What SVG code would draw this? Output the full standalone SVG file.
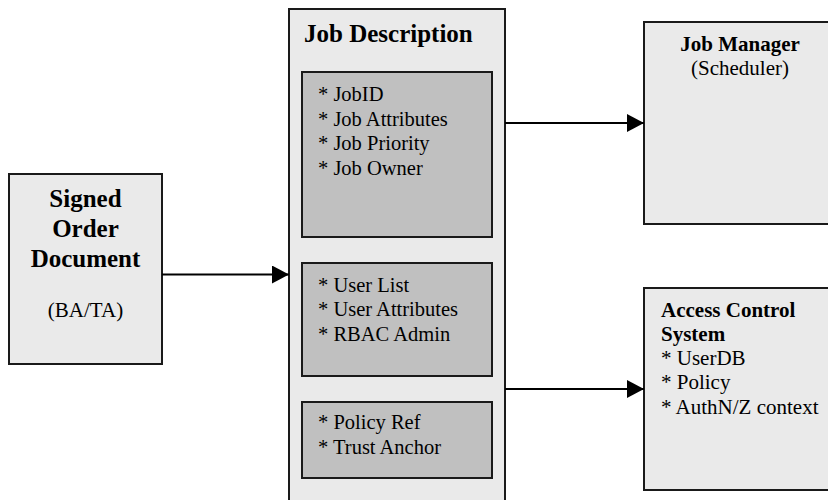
<svg xmlns="http://www.w3.org/2000/svg" width="828" height="500" viewBox="0 0 828 500">
<defs>
<style>
.box{fill:#eaeaea;stroke:#1a1a1a;stroke-width:2}
.inner{fill:#c0c0c0;stroke:#1a1a1a;stroke-width:2}
.t{font-family:"Liberation Serif","Times New Roman",serif;fill:#000}
.b{font-weight:bold}
.conn{stroke:#000;stroke-width:2;fill:none}
</style>
<marker id="arr" viewBox="0 0 17 18" refX="17" refY="9" markerWidth="17" markerHeight="18" markerUnits="userSpaceOnUse" orient="auto">
<path d="M0,0 L17,9 L0,18 Z" fill="#000"/>
</marker>
</defs>
<rect width="828" height="500" fill="#fff"/>
<g id="signed-order">
<rect class="box" x="9" y="174" width="153" height="190"/>
<text class="t b" font-size="25" text-anchor="middle" x="85.5" y="207">Signed</text>
<text class="t b" font-size="25" text-anchor="middle" x="85.5" y="237">Order</text>
<text class="t b" font-size="25" text-anchor="middle" x="85.5" y="267">Document</text>
<text class="t" font-size="21" text-anchor="middle" x="85.5" y="317">(BA/TA)</text>
</g>
<g id="job-description">
<rect class="box" x="289" y="9" width="216" height="500"/>
<text class="t b" font-size="25" x="304" y="42">Job Description</text>
<g id="job-info">
<rect class="inner" x="302" y="72" width="190" height="165"/>
<text class="t" font-size="20.5" x="318" y="101">* JobID</text>
<text class="t" font-size="20.5" x="318" y="126">* Job Attributes</text>
<text class="t" font-size="20.5" x="318" y="150">* Job Priority</text>
<text class="t" font-size="20.5" x="318" y="175">* Job Owner</text>
</g>
<g id="user-info">
<rect class="inner" x="302" y="263" width="190" height="113"/>
<text class="t" font-size="20.5" x="318" y="292">* User List</text>
<text class="t" font-size="20.5" x="318" y="316">* User Attributes</text>
<text class="t" font-size="20.5" x="318" y="341">* RBAC Admin</text>
</g>
<g id="policy-info">
<rect class="inner" x="302" y="402" width="190" height="76"/>
<text class="t" font-size="20.5" x="318" y="429">* Policy Ref</text>
<text class="t" font-size="20.5" x="318" y="454">* Trust Anchor</text>
</g>
</g>
<g id="job-manager">
<rect class="box" x="644" y="22" width="200" height="202"/>
<text class="t b" font-size="21" text-anchor="middle" x="740" y="51">Job Manager</text>
<text class="t" font-size="21" text-anchor="middle" x="740" y="75">(Scheduler)</text>
</g>
<g id="access-control">
<rect class="box" x="644" y="288" width="200" height="202"/>
<text class="t b" font-size="21" x="661" y="317">Access Control</text>
<text class="t b" font-size="21" x="661" y="341">System</text>
<text class="t" font-size="21" x="661" y="365">* UserDB</text>
<text class="t" font-size="21" x="661" y="389">* Policy</text>
<text class="t" font-size="21" x="661" y="414">* AuthN/Z context</text>
</g>
<g id="connectors">
<line class="conn" x1="162" y1="274.5" x2="289" y2="274.5" marker-end="url(#arr)"/>
<line class="conn" x1="505" y1="123" x2="644" y2="123" marker-end="url(#arr)"/>
<line class="conn" x1="505" y1="389" x2="644" y2="389" marker-end="url(#arr)"/>
</g>
</svg>
